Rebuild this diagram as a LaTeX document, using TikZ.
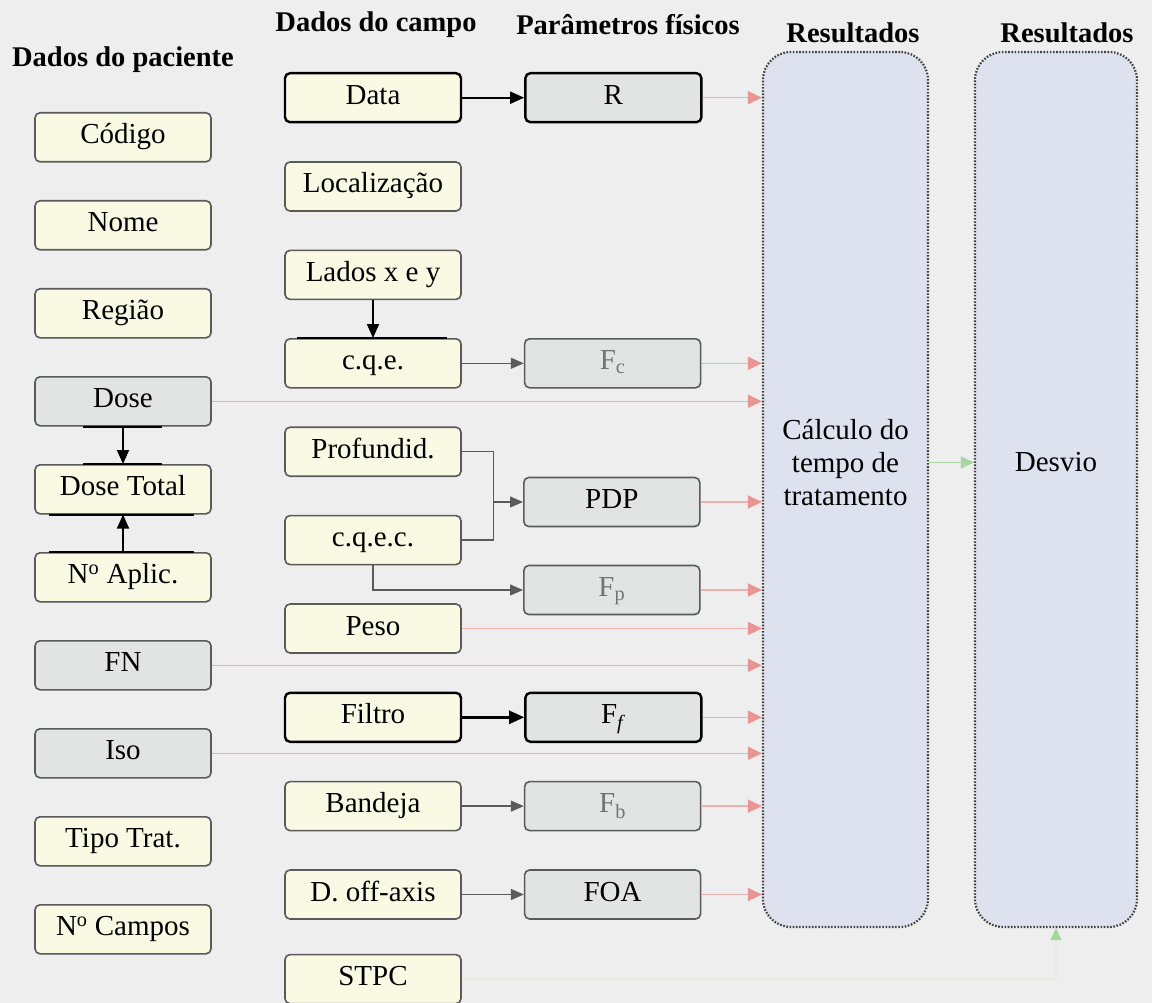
\documentclass[tikz,border=0pt]{standalone}
\usepackage{fontspec}
\setmainfont{Liberation Serif}
\usetikzlibrary{arrows.meta, positioning, calc}

\definecolor{bgcol}{HTML}{EEEEEE}
\definecolor{creamfill}{HTML}{FAFAE4}
\definecolor{grayfill}{HTML}{E2E4E4}
\definecolor{resfill}{HTML}{DEE2EF}
\definecolor{pinkln}{HTML}{EDB0B0}
\definecolor{pinktip}{HTML}{EB9494}
\definecolor{greenln}{HTML}{A9D6A0}
\definecolor{faintln}{HTML}{E6ECDF}
\definecolor{edgegray}{HTML}{5A5A5A}

\begin{document}
\begin{tikzpicture}[
  x=1pt, y=-1pt,
  font=\fontsize{29}{33}\selectfont,
  field/.style  = {draw=edgegray, line width=1.6pt, rounded corners=5pt, fill=creamfill,
                   minimum width=176pt, minimum height=49pt,
                   text height=19pt, text depth=6pt, inner sep=0pt},
  param/.style  = {field, fill=grayfill},
  strong/.style = {draw=black, line width=2.4pt},
  result/.style = {draw=black!75, line width=2.2pt, dash pattern=on 1.6pt off 1.6pt,
                   rounded corners=28pt, fill=resfill,
                   minimum width=165pt, minimum height=875pt},
  head/.style   = {font=\fontsize{28.5}{33}\selectfont\bfseries},
  feed/.style   = {pinkln, line width=1.5pt, -{Triangle[length=14pt, width=13pt, color=pinktip]}},
  link/.style   = {edgegray, line width=1.3pt, -{Triangle[length=13pt, width=11pt]}},
  blackarrow/.style = {black, line width=1.8pt, -{Triangle[length=14pt, width=12pt]}},
  greenarrow/.style = {greenln, line width=1.5pt, -{Triangle[length=13pt, width=12pt]}},
  bar/.style    = {black, line width=2.2pt},
  node distance=37.4pt
]

  \useasboundingbox (0,0) rectangle (1152,1003);
  \fill[bgcol] (0,0) rectangle (1152,1003);

  % Headings
  \node[head] (hpac)   at (123,60)  {Dados do paciente};
  \node[head] (hcampo) at (376,25)  {Dados do campo};
  \node[head] (hfis)   at (628,25)  {Parâmetros físicos};
  \node[head] (hres1)  at (853,33)  {Resultados};
  \node[head] (hres2)  at (1067,33) {Resultados};

  % Patient data
  \node[field, anchor=north] (codigo) at (123,112) {Código};
  \node[field, below=of codigo]   (nome)    {Nome};
  \node[field, below=of nome]     (regiao)  {Região};
  \node[param, below=of regiao]   (dose)    {Dose};
  \node[field, below=of dose]     (dosetot) {Dose Total};
  \node[field, below=of dosetot]  (aplic)   {N\textsuperscript{o} Aplic.};
  \node[param, below=of aplic]    (fn)      {FN};
  \node[param, below=of fn]       (iso)     {Iso};
  \node[field, below=of iso]      (tipo)    {Tipo Trat.};
  \node[field, below=of tipo]     (campos)  {N\textsuperscript{o} Campos};

  % Field data
  \node[field, strong, anchor=north] (data) at (373,72) {Data};
  \node[field, below=37.8pt of data]   (local)  {Localização};
  \node[field, below=37.8pt of local]  (lados)  {Lados x e y};
  \node[field, below=37.8pt of lados]  (cqe)    {c.q.e.};
  \node[field, below=37.8pt of cqe]    (prof)   {Profundid.};
  \node[field, below=37.8pt of prof]   (cqec)   {c.q.e.c.};
  \node[field, below=37.8pt of cqec]   (peso)   {Peso};
  \node[field, strong, below=37.8pt of peso] (filtro) {Filtro};
  \node[field, below=37.8pt of filtro] (bandeja) {Bandeja};
  \node[field, below=37.8pt of bandeja] (offaxis) {D. off-axis};
  \node[field, below=34pt of offaxis]  (stpc)   {STPC};

  % Physical parameters
  \node[param, strong, right=62pt of data] (r) {R};
  \node[param, right=62pt of cqe, text=black!55] (fc) {F\textsubscript{c}};
  \node[param, anchor=west] (pdp) at (523,502) {PDP};
  \node[param, anchor=west, text=black!55] (fp) at (523,590) {F\textsubscript{p}};
  \node[param, strong, right=62pt of filtro] (ff) {F\textsubscript{\textit{f}}};
  \node[param, right=62pt of bandeja, text=black!55] (fb) {F\textsubscript{b}};
  \node[param, right=62pt of offaxis] (foa) {FOA};

  % Results
  \node[result, label={[name=calctxt, align=center, yshift=27pt]center:Cálculo do\\tempo de\\tratamento}] (res1) at (845.5,489.5) {};
  \node[result, minimum width=162pt, label={[name=desvtxt, yshift=27pt]center:Desvio}] (res2) at (1056,489.5) {};

  % Dose total
  \draw[blackarrow] (dose) -- (dosetot);
  \draw[blackarrow] (aplic) -- (dosetot);
  \draw[bar] ($(dose.south)+(-40,0)$) -- ++(79,0);
  \draw[bar] ($(dosetot.north)+(-40,0)$) -- ++(79,0);
  \draw[bar] ($(dosetot.south)+(-74,0)$) -- ++(145,0);
  \draw[bar] ($(aplic.north)+(-74,0)$) -- ++(145,0);

  % Field data to parameters
  \draw[blackarrow] (data) -- (r);
  \draw[blackarrow] (lados) -- (cqe);
  \draw[bar] ($(cqe.north)+(-76,0)$) -- ++(150,0);
  \draw[link] (cqe) -- (fc);
  \coordinate (join) at ($(prof.east)+(32,0)$);
  \draw[edgegray, line width=1.3pt] (prof.east) -- (join) |- (cqec.east);
  \draw[link] (join |- pdp.west) -- (pdp.west);
  \draw[link] (cqec.south) |- (fp.west);
  \draw[black, line width=2.4pt, -{Triangle[length=15pt, width=13pt]}] (filtro) -- (ff);
  \draw[link] (bandeja) -- (fb);
  \draw[link] (offaxis) -- (foa);

  % Into the calculation
  \foreach \src in {r, fc, dose, pdp, fp, peso, fn, ff, iso, fb, foa}
    \draw[feed] (\src.east) -- (\src.east -| res1.west);

  % Into the deviation
  \draw[greenarrow] (res1.east |- calctxt) -- (res2.west |- calctxt);
  \draw[faintln, line width=1.5pt, -{Triangle[length=12pt, width=11pt, color=greenln]}]
    (stpc.east) -| (res2.south);

\end{tikzpicture}
\end{document}
